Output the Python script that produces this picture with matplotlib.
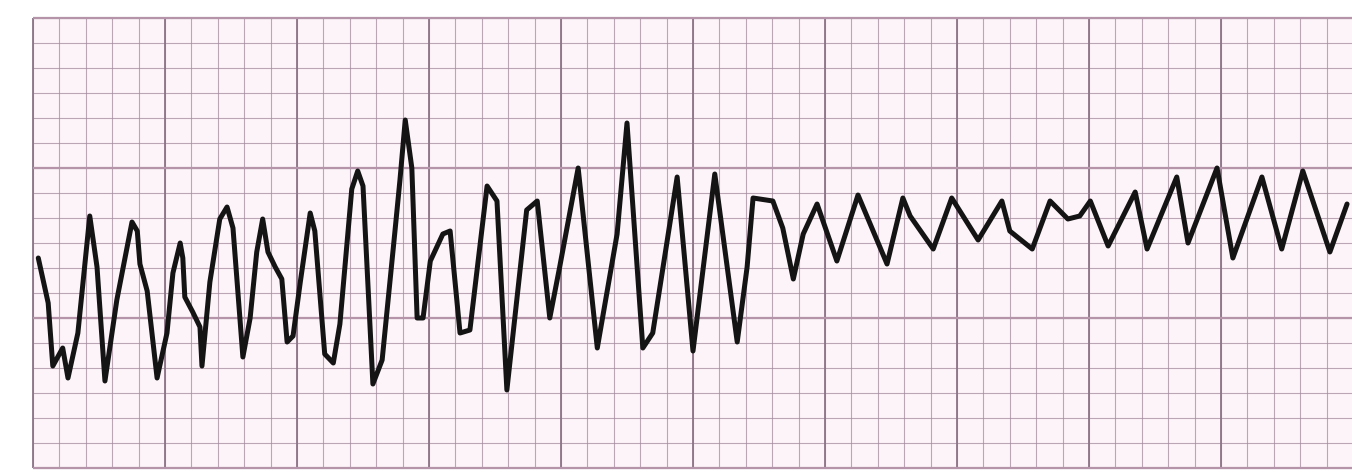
import numpy as np
import matplotlib.pyplot as plt

# trace: time (s) and amplitude (mV)
time_s = [
    0.008, 0.023, 0.030, 0.045, 0.053, 0.068, 0.086, 0.097, 0.109, 0.127,
    0.150, 0.158, 0.162, 0.173, 0.188, 0.203, 0.212, 0.223, 0.227, 0.230,
    0.242, 0.253, 0.256, 0.268, 0.283, 0.294, 0.303, 0.318, 0.329, 0.339,
    0.348, 0.356, 0.367, 0.377, 0.385, 0.394, 0.405, 0.420, 0.427, 0.442,
    0.455, 0.465, 0.483, 0.492, 0.500, 0.515, 0.529, 0.548, 0.556, 0.564,
    0.574, 0.582, 0.591, 0.602, 0.621, 0.632, 0.647, 0.662, 0.688, 0.703,
    0.718, 0.733, 0.748, 0.764, 0.783, 0.798, 0.826, 0.855, 0.885, 0.900,
    0.924, 0.939, 0.976, 1.000, 1.033, 1.067, 1.082, 1.091, 1.121, 1.136,
    1.152, 1.167, 1.188, 1.218, 1.250, 1.294, 1.318, 1.329, 1.364, 1.392,
    1.432, 1.468, 1.480, 1.514, 1.541, 1.568, 1.586, 1.602, 1.629, 1.670,
    1.688, 1.733, 1.750, 1.794, 1.818, 1.862, 1.892, 1.924, 1.965, 1.991,
]
amp_mv = [
    0.20, 0.05, -0.16, -0.10, -0.20, -0.05, 0.34, 0.17, -0.21, 0.06,
    0.32, 0.29, 0.18, 0.09, -0.20, -0.05, 0.15, 0.25, 0.20, 0.07,
    0.02, -0.03, -0.16, 0.12, 0.33, 0.37, 0.30, -0.13, 0.00, 0.22,
    0.33, 0.22, 0.17, 0.13, -0.08, -0.06, 0.12, 0.35, 0.29, -0.12,
    -0.15, -0.02, 0.43, 0.49, 0.44, -0.22, -0.14, 0.28, 0.46, 0.66,
    0.50, 0.00, 0.00, 0.19, 0.28, 0.29, -0.05, -0.04, 0.44, 0.39,
    -0.24, 0.06, 0.36, 0.39, 0.00, 0.17, 0.50, -0.10, 0.28, 0.65,
    -0.10, -0.05, 0.47, -0.11, 0.48, -0.08, 0.17, 0.40, 0.39, 0.30,
    0.13, 0.28, 0.38, 0.19, 0.41, 0.18, 0.40, 0.34, 0.23, 0.40,
    0.26, 0.39, 0.29, 0.23, 0.39, 0.33, 0.34, 0.39, 0.24, 0.42,
    0.23, 0.47, 0.25, 0.50, 0.20, 0.47, 0.23, 0.49, 0.22, 0.38,
]

paper_t = (0.0, 2.0)
paper_v = (-0.5, 1.0)

fig = plt.figure(figsize=(13.52, 4.72), dpi=100)
ax = fig.add_axes([0, 0, 1, 1])
ax.set_xlim(-0.05, 1.9985)
ax.set_ylim(-0.5133, 1.06)
ax.axis('off')

# paper
ax.add_patch(plt.Rectangle((paper_t[0], paper_v[0]), paper_t[1] - paper_t[0],
                           paper_v[1] - paper_v[0], facecolor='#fdf4f9',
                           edgecolor='none', zorder=0))

grid_col = '#a48c9e'
minor_t = np.arange(paper_t[0], paper_t[1] + 1e-6, 0.04)
major_t = np.arange(paper_t[0], paper_t[1] + 1e-6, 0.2)
minor_v = np.arange(paper_v[0], paper_v[1] + 1e-6, 0.5 / 6)
major_v = np.arange(paper_v[0], paper_v[1] + 1e-6, 0.5)

ax.vlines(minor_t, *paper_v, color=grid_col, lw=0.8, alpha=0.75, zorder=1)
ax.hlines(minor_v, *paper_t, color=grid_col, lw=0.8, alpha=0.75, zorder=1)
ax.vlines(major_t, *paper_v, color='#8c7487', lw=1.3, zorder=1)
ax.hlines(major_v, *paper_t, color='#b594aa', lw=1.6, zorder=1)

ax.plot(time_s, amp_mv, color='#141414', lw=3.6,
        solid_joinstyle='round', solid_capstyle='round', zorder=3)

fig.savefig('out.png', dpi=100)
